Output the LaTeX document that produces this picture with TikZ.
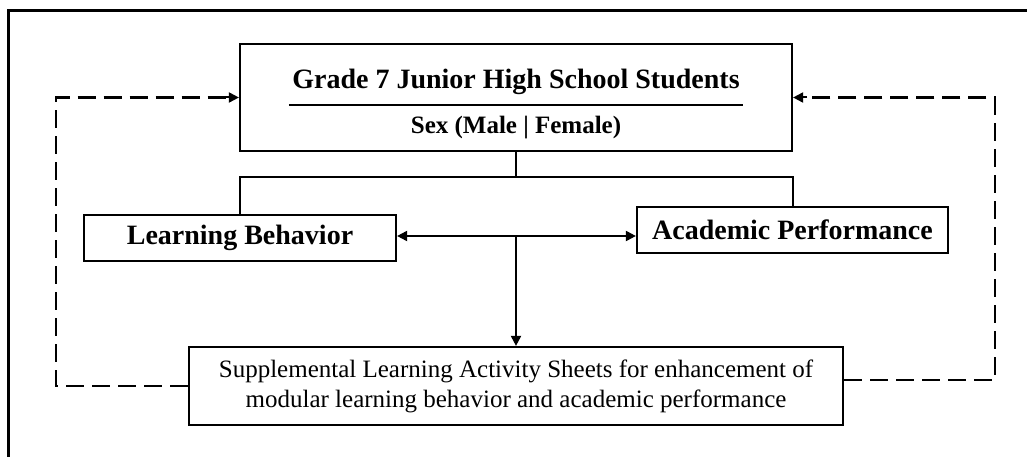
\documentclass[tikz,border=0pt]{standalone}
\usepackage{fontspec}
\setmainfont{Liberation Serif}
\usetikzlibrary{positioning,arrows.meta}

\tikzset{
	box/.style={draw,line width=2.2pt,inner sep=0pt},
	headtext/.style={font=\bfseries\fontsize{28}{32}\selectfont},
	link/.style={line width=2pt},
	feedback/.style={line width=2.2pt,dash pattern=on 18pt off 8pt},
	tip/.style={-{Triangle[length=10pt,width=10pt]}},
}

\begin{document}
\begin{tikzpicture}[x=1pt,y=-1pt]
	\useasboundingbox (0,0) rectangle (1027,457);
	%% frame
	\draw[line width=2.2pt] (8.5,480) |- (1050,10.5);
	%% boxes
	\node[box,minimum width=552pt,minimum height=107pt] (top) at (516,97.5) {};
	\node[headtext] (title) at (516,82) {Grade 7 Junior High School Students};
	\draw[line width=1.6pt] (title.west |- 0,105) -- (title.east |- 0,105);
	\node[font=\bfseries\fontsize{25}{28}\selectfont] (sex) at (516,128) {Sex (Male | Female)};
	\node[box,headtext,minimum width=312pt,minimum height=46pt] (lb) at (240,238) {Learning Behavior};
	\node[box,headtext,minimum width=311pt,minimum height=46pt] (ap) at (792.5,230) {Academic Performance};
	\node[box,align=center,font=\fontsize{25}{30}\selectfont,minimum width=654pt,minimum height=78pt] (sheet) at (516,386)
		{Supplemental Learning Activity Sheets for enhancement of\\modular learning behavior and academic performance};
	% tree lines
	\coordinate (split) at (516,177);
	\draw[link] (top.south) -- (split);
	\draw[link] (lb.north) |- (split) -| (ap.north);
	\draw[link,{Triangle[length=10pt,width=10pt]}-{Triangle[length=10pt,width=10pt]}] ([yshift=2pt]lb.east) -- ([yshift=2pt]lb.east -| ap.west);
	\draw[link,tip] ([yshift=2pt]lb.east -| sheet.north) -- (sheet.north);
	% dashed feedback
	\coordinate (lc) at (56,97.5);
	\coordinate (rc) at (995,97.5);
	\draw[feedback] (sheet.west) -| (lc) -- ([xshift=-12pt]top.west);
	\draw[link,tip] ([xshift=-14pt]top.west) -- (top.west);
	\draw[feedback] ([yshift=6pt]sheet.east) -| (rc) -- ([xshift=12pt]top.east);
	\draw[link,tip] ([xshift=14pt]top.east) -- (top.east);
\end{tikzpicture}
\end{document}
